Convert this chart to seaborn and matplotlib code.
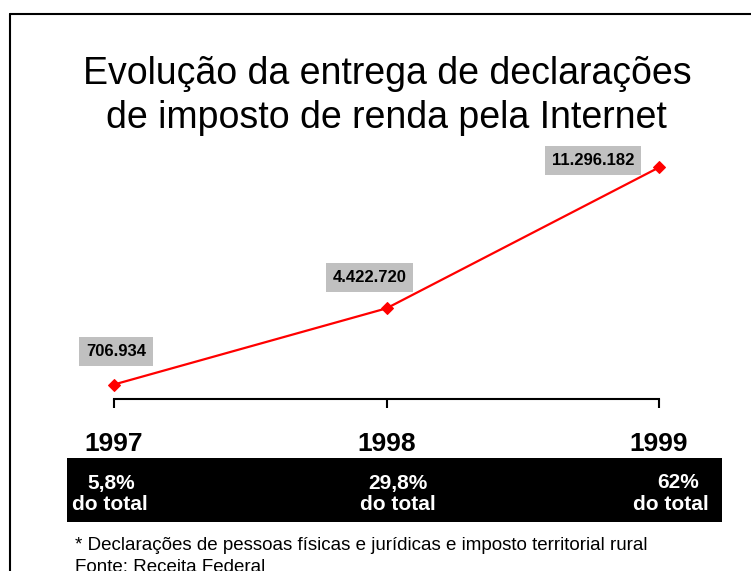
import matplotlib
matplotlib.use("Agg")
import matplotlib.pyplot as plt
import numpy as np
import pandas as pd
import seaborn as sns
from matplotlib.lines import Line2D
from matplotlib.patches import Rectangle

# dados
anos = [1997, 1998, 1999]
declaracoes = [706934, 4422720, 11296182]
rotulos = ["706.934", "4.422.720", "11.296.182"]
percentuais = ["5,8%", "29,8%", "62%"]

titulo = ["Evolução da entrega de declarações", "de imposto de renda pela Internet"]
nota = "* Declarações de pessoas físicas e jurídicas e imposto territorial rural"
fonte = "Fonte: Receita Federal"

W, H = 751, 571

sns.set_style("white")
plt.rcParams["font.family"] = ["Liberation Sans", "DejaVu Sans"]
plt.rcParams["text.color"] = "black"
plt.rcParams["xtick.color"] = "black"

fig = plt.figure(figsize=(W / 100, H / 100), dpi=100)
fig.patch.set_facecolor("white")


def fx(px):
    return px / W


def fy(py):
    return 1 - py / H


# moldura (linha esquerda e superior)
fig.add_artist(Line2D([fx(9.5), fx(9.5)], [fy(13.5), 0], color="black", lw=1.5))
fig.add_artist(Line2D([fx(9.5), 1], [fy(13.5), fy(13.5)], color="black", lw=1.5))

# titulo
fig.text(fx(387), fy(84), titulo[0], ha="center", va="baseline", fontsize=27)
fig.text(fx(386), fy(128), titulo[1], ha="center", va="baseline", fontsize=27)

# eixo principal
ax = fig.add_axes([fx(114), fy(399), fx(659) - fx(114), fy(153) - fy(399)])
df = pd.DataFrame({"ano": anos, "declaracoes": declaracoes})
sns.lineplot(data=df, x="ano", y="declaracoes", ax=ax, color="#ff0000", lw=1.6,
             marker="D", markersize=6.5, markeredgecolor="#ff0000", clip_on=False)
ax.set_xlim(1997, 1999)
ax.set_ylim(0, 12e6)
ax.set_xticks(anos)
ax.set_xticklabels([str(a) for a in anos], fontsize=19, fontweight="bold", color="black")
ax.set_yticks([])
ax.set_xlabel("")
ax.set_ylabel("")
ax.patch.set_alpha(0)
for s in ["top", "left", "right"]:
    ax.spines[s].set_visible(False)
ax.spines["bottom"].set_linewidth(1.5)
ax.spines["bottom"].set_color("black")
ax.tick_params(axis="x", direction="out", length=6.5, width=1.5, color="black", pad=17.5, bottom=True)

# rotulos de valores
offsets = [(2, 33), (-17, 31), (-66, 7)]
for a, v, r, (dx, dy) in zip(anos, declaracoes, rotulos, offsets):
    ax.annotate(r, (a, v), xytext=(dx, dy), textcoords="offset pixels", ha="center", va="center",
                fontsize=12, fontweight="bold", color="black", annotation_clip=False,
                bbox=dict(boxstyle="square,pad=0.4", fc="#c0c0c0", ec="none"))

# faixa preta com percentuais
fig.add_artist(Rectangle((fx(67), fy(522)), fx(722) - fx(67), fy(458) - fy(522),
                         facecolor="black", edgecolor="none"))
pos_pct = [111, 398, 678]
pos_tot = [110, 398, 671]
for p, xp, xt in zip(percentuais, pos_pct, pos_tot):
    fig.text(fx(xp), fy(483), p, color="white", fontsize=15, fontweight="bold", ha="center", va="center")
    fig.text(fx(xt), fy(504), "do total", color="white", fontsize=15, fontweight="bold", ha="center", va="center")

# nota e fonte
fig.text(fx(75), fy(550), nota, fontsize=13.5, ha="left", va="baseline")
fig.text(fx(75), fy(572), fonte, fontsize=13.5, ha="left", va="baseline")

fig.savefig("out.png", dpi=100)
